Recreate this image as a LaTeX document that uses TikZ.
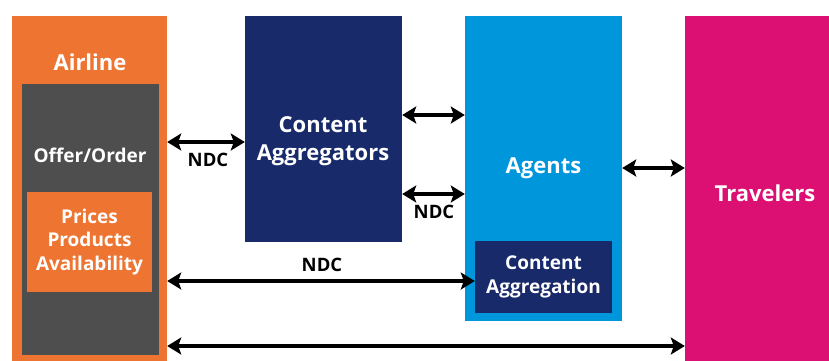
\documentclass[tikz,border=0pt]{standalone}
\usepackage{fontspec}
\setmainfont{Open Sans}
\usepackage{xcolor}
\usetikzlibrary{arrows.meta}

\definecolor{airorange}{HTML}{EE7432}
\definecolor{offergray}{HTML}{4E4E4E}
\definecolor{navy}{HTML}{182A6A}
\definecolor{agentblue}{HTML}{0096DC}
\definecolor{travpink}{HTML}{DC0F73}

\begin{document}
\begin{tikzpicture}[x=1pt, y=-1pt,
  box/.style={rectangle, inner sep=0pt, align=center, text=white, font=\bfseries\fontsize{22}{28}\selectfont},
  small/.style={font=\bfseries\fontsize{19}{23.5}\selectfont},
  ndc/.style={{Stealth[length=14pt,width=17pt,inset=3pt]}-{Stealth[length=14pt,width=17pt,inset=3pt]}, line width=4.5pt},
  lbl/.style={font=\bfseries\fontsize{18.5}{20}\selectfont}]
\useasboundingbox (0,0) rectangle (829,360);
\fill[white] (0,0) rectangle (829,360);

% airline column
\node at (89.5,193) [box, fill=airorange, minimum width=155pt, minimum height=354pt] (airline) {};
\node at (90,62) [box] (airlinetext) {Airline};
\node at (90.5,219.5) [box, fill=offergray, minimum width=137pt, minimum height=271pt] (offer) {};
\node at (90,155) [box, small] (offertext) {Offer/Order};
\node at (89.5,242) [box, small, fill=airorange, minimum width=125pt, minimum height=100pt] (prices) {Prices\\Products\\Availability};

% middle boxes
\node at (323.5,129) [box, fill=navy, minimum width=157pt, minimum height=226pt] (aggregators) {};
\node at (323,141) [box] (aggtext) {Content\\Aggregators};
\node at (543.5,168.5) [box, fill=agentblue, minimum width=157pt, minimum height=305pt] (agents) {Agents};
\node at (543.5,277) [box, small, fill=navy, minimum width=137pt, minimum height=72pt] (aggregation) {Content\\Aggregation};

% travelers
\node at (765,193) [box, fill=travpink, minimum width=160pt, minimum height=354pt] (travelers) {Travelers};

% links
\draw[ndc] (airline.east |- 0,142) -- (aggregators.west |- 0,142);
\node at (208,160) [lbl] (ndca) {NDC};
\draw[ndc] (aggregators.east |- 0,115) -- (agents.west |- 0,115);
\draw[ndc] (aggregators.east |- 0,194) -- (agents.west |- 0,194);
\node at (434,212) [lbl] (ndcb) {NDC};
\draw[ndc] (airline.east |- 0,281) -- (aggregation.west |- 0,281);
\node at (322,265) [lbl] (ndcc) {NDC};
\draw[ndc] (agents.east |- 0,168) -- (travelers.west |- 0,168);
\draw[ndc] (airline.east |- 0,346) -- (travelers.west |- 0,346);
\end{tikzpicture}
\end{document}
